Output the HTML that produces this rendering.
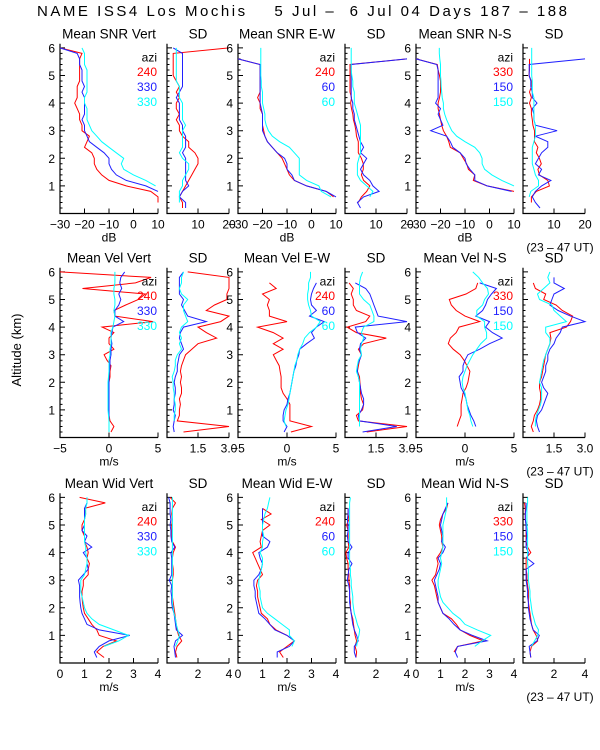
<!DOCTYPE html>
<html><head><meta charset="utf-8">
<style>
html,body{margin:0;padding:0;background:#fff;}
svg{display:block;font-family:"Liberation Sans",sans-serif;}
</style></head>
<body>
<svg id="chart" width="600" height="750" viewBox="0 0 600 750">
<text x="302" y="16" text-anchor="middle" font-size="15" textLength="530" lengthAdjust="spacing" style="white-space:pre">NAME ISS4 Los Mochis    5 Jul –  6 Jul 04 Days 187 – 188</text>
<text transform="translate(21,350) rotate(-90)" text-anchor="middle" font-size="13">Altitude (km)</text>
</svg>
<script>
// altitude levels (km)
const alts = [0.2,0.4,0.6,0.8,1.0,1.2,1.4,1.6,1.8,2.0,2.2,2.4,2.6,2.8,3.0,3.2,3.4,3.6,3.8,4.0,4.2,4.4,4.6,4.8,5.0,5.2,5.4,5.6,5.8,6.0];
const panelTitles = ["Mean SNR Vert","SD","Mean SNR E-W","SD","Mean SNR N-S","SD","Mean Vel Vert","SD","Mean Vel E-W","SD","Mean Vel N-S","SD","Mean Wid Vert","SD","Mean Wid E-W","SD","Mean Wid N-S","SD"];
const legendAzi = [["240","330","330"],["240","60","60"],["330","150","150"]];
const snrTicks = [-30,-20,-10,0,10];
const sdSnrTicks = [10,20];
const velTicks = [-5,0,5];
const sdVelTicks = [1.5,3.0];
const sdVelLabels = ["1.5","3.0"];
const widTicks = [0,1,2,3,4];
const sdWidTicks = [2,4];
const yTicks = [1,2,3,4,5,6];
// series: red, blue, cyan per panel
const p1r=[null,10,10,7,-3,-10,-13,-15,-16,-16,-17,-20,-19,-18,-21,-21,-22,-22,-23,-24,-23,-23,-23,-22,-22,-22,-22,-22,-21,-30];
const p1b=[null,null,null,10,5,-3,-7,-9,-10,-10,-12,-15,-18,-19,-20,-20,-21,-20,-20,-20,-20,-21,-20,-21,-21,-21,-22,-22,-23,-30];
const p1c=[null,null,null,null,9,5,0,-4,-5,-4,-7,-10,-13,-15,-17,-18,-19,-19,-19,-20,-20,-19,-19,-19,-19,-19,-20,-20,-20,-21];
const p2r=[5,5,4,5,6,7,8,9,10,10,9,7,7,5,4,4,3,4,3,3,4,3,4,3,2,2,2,2,2,20];
const p2b=[6,6,4,5,7,6,6,6,6,6,5,6,6,6,5,5,4,4,4,4,3,4,5,5,5,5,5,5,5,2];
const p2c=[null,4,4,4,5,5,6,7,7,5,4,5,5,5,5,6,5,5,5,5,4,4,4,3,3,3,3,3,3,3];
const p3r=[10,null,9,6,-2,-7,-9,-10,-11,-12,-14,-16,-18,-19,-19.5,-20,-20,-20,-21,-21,-22,-21,-21,-21,-21,-21,-21,-30,null,null];
const p3b=[null,null,10,6,-2,-7,-8,-10,-10,-11,-14,-16,-18,-19,-20,-20,-20,-20,-20.5,-21,-21,-21,-21,-21,-21,-21,-21,-30,null,null];
const p3c=[null,null,8,4,3,-2,-5,-5,-5,-5,-7,-9,-13,-16,-17.6,-18.5,-19,-19,-19.5,-20,-20,-20,-20.5,-20.5,-20.7,-20.7,-20.7,-20.7,-20.7,-20.7];
const p4r=[null,4.3,5.3,7,8,6,5.3,5.9,5.9,5.3,4.3,4.3,4.3,3.7,3.5,3.2,2.7,2.5,2.1,1.8,2.1,1.6,1.6,1.6,1.6,1.6,1.6,20,null,null];
const p4b=[5,4,6,11,9,8,6,5,6,7,5,6,5,4.5,4,3.5,3,3,2.5,2.5,2,2,2,2,2,2,2,20,null,null];
const p4c=[null,null,8,9,7,5,4,4,4,4.5,5,5,5,5,5,5,4.5,4,3.5,3,3,3,2.5,2.5,2.2,2,2,2,2,2];
const p5r=[null,null,null,10,-1,-6.6,-6,-8.6,-9.3,-10.7,-12,-16,-16.6,-17.5,-18.8,-19.5,-20,-20.4,-21,-21,-20.4,-20,-20,-20,-20.4,-21,-21.3,-30,null,null];
const p5b=[null,null,null,9,-1,-6,-6,-8,-9.5,-10,-12,-15,-16,-17.5,-24,-19,-20,-21,-20,-22,-21,-21,-21,-21,-21,-21,-21.5,-30,null,null];
const p5c=[null,null,null,null,10,5,1,-2,-3,-3,-4,-6,-10,-13.4,-15.4,-16.5,-17.5,-18.3,-18.8,-18.8,-19.3,-19.5,-19.7,-19.8,-20,-20,-20,-20.3,-20.5,-20.5];
const p6r=[null,2.7,2.7,4.3,8.5,8,5.3,4.8,5.9,5.3,4.3,4.8,3.7,3.7,3.7,3.2,3,2.7,2.7,2.1,2.7,2.1,2.7,2.7,1.9,2.1,2.1,2.1,null,null];
const p6b=[5.5,4,3,4,6,9,5,6,4,5,6,8,8,4,11,4,3.5,3.5,3,4.5,3,3,2.5,2.5,2,2,2,20,null,null];
const p6c=[null,null,2,2.5,5,5,4,3.5,3,3,3,3,3.5,4,4,4,3.5,3.5,3.5,3.5,3.5,3,3,3,2.8,2.8,2.8,2.8,2.8,2.8];
const p7r=[0.2,0.5,0.1,0,0,0,0,0,0,0,0.1,0.1,0.2,-0.2,-0.5,0.5,0,0,0.5,-0.7,4.5,0.6,0.5,1.7,3,3.7,-2.7,2.7,4.3,-5];
const p7b=[0,0,0,0,0,0,0,0,0,0,0,0.05,0.1,0.1,0.2,0.2,0.3,0.2,0.3,0.4,1.5,0.6,0.6,1,1.2,1,1.3,1.1,1.2,1.6];
const p7c=[0,0,0,-0.05,-0.1,-0.1,-0.1,-0.1,-0.1,-0.1,-0.05,0,0,0,0.1,0.1,0.2,0.2,0.2,0.4,0.5,0.6,0.5,0.6,0.6,0.5,0.5,0.6,0.6,0.6];
const p8r=[0.8,3,0.5,0.6,0.6,0.65,0.6,0.7,0.7,0.65,0.7,0.65,0.7,0.8,0.9,1.2,1.5,2.4,1.9,1.5,2.6,3,1.9,2.3,2.9,2.9,3,3,3,1];
const p8b=[0.35,0.3,0.35,0.4,0.3,0.35,0.35,0.4,0.4,0.35,0.4,0.5,0.5,0.55,0.6,0.8,0.7,0.6,0.65,0.8,1.9,1.0,0.85,0.7,0.8,0.6,0.6,0.6,0.6,0.8];
const p8c=[null,null,0.35,0.35,0.4,0.4,0.35,0.35,0.3,0.3,0.25,0.35,0.4,0.4,0.5,0.7,0.6,0.7,0.6,0.7,1.0,0.9,0.8,0.8,1.0,0.7,0.6,0.7,0.7,0.8];
const p9r=[0.4,2.5,0.3,0.3,0.3,0.3,0,-0.4,-0.6,-0.6,-0.6,-0.7,-0.8,-1.1,-1.4,-0.4,-1.4,-0.4,-1.4,-3,0,-1.8,-1.8,-2,-1.8,-2.5,-1.1,-1.8,null,null];
const p9b=[-0.3,0,-0.4,-0.4,-0.3,0,0.1,0.3,0.4,0.5,0.6,0.7,0.9,1.0,1.2,1.3,2.0,2.8,2.5,3.0,3.8,2.3,3.0,2.5,2.4,2.5,2.7,3.0,null,null];
const p9c=[null,-0.1,-0.3,-0.2,-0.1,0.1,0.2,0.3,0.4,0.5,0.6,0.7,0.8,1.0,1.1,1.3,1.6,1.8,2.3,3,3.4,2.5,2.4,2.2,2.1,2.1,2.2,2.2,2.4,2.4];
const p10r=[1.05,3,0.65,0.55,0.85,0.9,0.8,0.75,0.75,0.72,0.7,0.6,0.65,0.7,0.8,0.65,0.9,2.0,0.55,0.1,1.0,1.2,0.55,0.4,0.4,0.3,0.4,0.2,null,null];
const p10b=[0.85,2.5,0.7,0.65,0.8,0.9,0.9,0.8,0.75,0.7,0.65,0.6,0.6,0.7,0.8,0.7,0.75,1.0,0.6,0.5,3.0,1.6,1.5,1.4,1.3,1.2,1.0,0.5,null,null];
const p10c=[null,0.7,0.7,0.7,0.7,0.7,0.7,0.7,0.7,0.7,0.65,0.55,0.6,0.65,0.8,0.75,0.8,0.9,0.8,0.9,1.4,1.4,1.3,1.2,0.9,0.7,0.7,0.7,0.75,0.85];
const p11r=[null,-0.8,-0.6,-0.4,-0.4,-0.4,-0.3,-0.2,0.1,0.3,0.4,0.5,0.2,-0.1,-0.5,-1.2,-1.7,-1.5,-0.9,-0.6,1.5,0,-0.9,-1.4,-1.6,0.1,1.1,1.3,null,null];
const p11b=[null,1.1,0.9,0.6,0.4,0.2,0.1,-0.1,-0.4,-0.5,-0.6,-0.2,-0.2,0,0.3,1.5,2.5,3.8,2.8,2.1,2.5,1.1,1.8,2.1,2.3,2.7,3.2,1.5,null,null];
const p11c=[null,0.8,0.6,0.5,0.3,0.2,0.1,0,-0.2,-0.3,-0.2,0,0.2,0.5,0.8,1.2,1.6,2.2,2.2,2.0,2.0,1.2,1.2,1.8,2.0,2.4,2.3,1.8,1.4,0.8];
const p12r=[0.5,0.4,0.5,0.55,0.7,0.8,0.85,0.85,0.8,0.8,0.9,0.95,1.0,1.05,1.1,1.2,1.3,1.35,1.3,2.1,2.3,2.4,1.9,1.6,1.0,1.1,0.6,0.5,null,null];
const p12b=[0.8,0.7,0.65,0.7,0.9,1.0,1.1,1.2,1.0,0.9,1.0,1.1,1.1,1.2,1.2,1.3,1.5,1.6,1.8,1.9,3.0,2.3,1.7,1.3,1.4,1.5,2.0,1.5,1.5,null];
const p12c=[null,0.6,0.6,0.65,0.75,0.85,0.9,0.9,0.9,0.8,0.85,0.9,0.95,1.0,1.1,1.2,1.3,1.3,1.1,1.1,2.1,1.8,1.5,1.4,0.8,0.7,1.0,1.3,1.2,1.3];
const p13r=[1.8,1.5,1.76,2.3,1.6,1.5,1.3,1.15,1.0,0.95,0.92,0.9,0.9,0.95,0.95,1.15,1.15,1.2,1.1,1.15,1.1,1.0,1.0,0.9,0.9,1.0,1.05,1.0,1.85,0.8];
const p13b=[1.5,1.4,1.6,2.0,2.85,1.6,1.1,1.0,0.9,0.85,0.82,0.8,0.8,0.8,0.75,0.95,1.15,1.1,1.1,0.95,1.3,1.0,1.1,0.9,1.0,1.0,1.0,1.0,1.1,1.1];
const p13c=[null,null,1.8,2.4,2.8,2.2,1.6,1.3,1.1,1.0,0.95,0.9,0.85,0.85,0.85,1.0,1.05,1.1,1.1,1.05,1.05,1.0,1.0,1.0,1.0,1.0,1.05,1.05,1.1,1.1];
const p14r=[0.64,0.55,0.65,0.95,0.75,0.65,0.6,0.55,0.5,0.45,0.4,0.35,0.35,0.35,0.35,0.4,0.4,0.35,0.35,0.4,0.55,0.35,0.3,0.3,0.3,0.35,0.3,0.35,0.55,0.2];
const p14b=[0.55,0.5,0.45,0.55,1.0,0.6,0.55,0.5,0.45,0.35,0.3,0.3,0.25,0.3,0.15,0.3,0.3,0.3,0.3,0.25,0.5,0.3,0.25,0.25,0.2,0.25,0.2,0.2,0.2,0.1];
const p14c=[null,null,0.55,0.7,0.8,0.7,0.6,0.55,0.45,0.4,0.35,0.35,0.35,0.35,0.35,0.35,0.35,0.35,0.35,0.35,0.35,0.35,0.35,0.35,0.35,0.35,0.35,0.35,0.35,0.35];
const p15r=[1.85,1.7,2.0,2.3,2.0,1.55,1.3,1.2,0.95,0.9,0.85,0.8,0.8,0.75,0.8,1.0,0.9,0.8,0.7,0.6,0.95,0.9,0.95,1.0,1.3,0.95,1.35,1.0,null,null];
const p15b=[1.6,1.6,2.1,2.3,2.0,1.5,1.3,1.1,0.85,0.8,0.75,0.7,0.7,0.65,0.65,0.85,0.95,1.0,0.9,0.85,1.2,1.3,1.0,1.0,1.0,1.0,1.0,1.0,null,null];
const p15c=[null,null,2.2,2.3,2.1,2.1,1.8,1.5,1.2,1.0,0.95,0.9,0.9,0.85,0.85,0.9,0.95,1.0,1.0,0.9,1.0,1.0,1.05,1.0,1.0,1.05,1.1,1.2,1.25,1.3];
const p16r=[0.7,0.75,0.65,0.75,0.65,0.6,0.55,0.5,0.4,0.35,0.35,0.3,0.3,0.3,0.25,0.25,0.2,0.2,0.1,0.05,0.25,0.2,0.2,0.2,0.1,0.25,0.2,0.2,null,null];
const p16b=[0.7,0.6,0.6,0.85,0.75,0.6,0.5,0.45,0.4,0.35,0.3,0.3,0.3,0.25,0.15,0.2,0.25,0.45,0.2,0.2,0.45,0.2,0.15,0.2,0.2,0.15,0.2,0.2,null,null];
const p16c=[null,null,0.75,0.8,0.9,0.95,0.8,0.7,0.6,0.55,0.5,0.5,0.45,0.4,0.4,0.35,0.35,0.3,0.3,0.3,0.3,0.3,0.3,0.3,0.3,0.3,0.3,0.3,0.3,0.35];
const p17r=[null,1.55,1.7,2.75,2.2,1.8,1.65,1.45,1.1,1.0,0.9,0.85,0.8,0.75,0.65,0.8,0.85,0.9,0.85,1.0,1.1,1.05,1.05,1.0,0.95,1.0,1.1,1.25,1.3,null];
const p17b=[1.7,1.6,1.7,2.9,2.3,1.8,1.55,1.35,1.1,1.0,0.9,0.9,0.85,0.8,0.75,0.85,0.95,1.0,0.9,1.1,1.2,1.05,1.1,1.05,1.0,1.05,1.1,1.2,1.3,null];
const p17c=[null,null,2.4,2.7,3.05,2.5,2.0,1.8,1.5,1.3,1.1,1.0,0.95,0.9,0.9,0.95,1.0,1.05,1.0,1.05,1.1,1.1,1.1,1.1,1.1,1.15,1.2,1.25,1.25,1.25];
const p18r=[0.5,0.45,0.55,0.95,0.85,0.65,0.55,0.5,0.45,0.4,0.35,0.35,0.35,0.3,0.25,0.25,0.2,0.2,0.2,0.5,0.3,0.2,0.2,0.2,0.2,0.15,0.15,0.15,0.1,null];
const p18b=[0.5,0.45,0.4,0.9,1.05,0.65,0.55,0.45,0.4,0.35,0.35,0.3,0.3,0.25,0.2,0.2,0.2,0.7,0.25,0.35,0.2,0.2,0.25,0.2,0.2,0.15,0.15,0.2,0.2,null];
const p18c=[null,null,0.55,0.75,0.95,1.0,0.8,0.7,0.6,0.55,0.5,0.45,0.45,0.4,0.35,0.35,0.35,0.3,0.3,0.3,0.3,0.3,0.3,0.3,0.25,0.25,0.25,0.25,0.3,0.3];

const series = [[p1r,p1b,p1c],[p2r,p2b,p2c],[p3r,p3b,p3c],[p4r,p4b,p4c],[p5r,p5b,p5c],[p6r,p6b,p6c],
 [p7r,p7b,p7c],[p8r,p8b,p8c],[p9r,p9b,p9c],[p10r,p10b,p10c],[p11r,p11b,p11c],[p12r,p12b,p12c],
 [p13r,p13b,p13c],[p14r,p14b,p14c],[p15r,p15b,p15c],[p16r,p16b,p16c],[p17r,p17b,p17c],[p18r,p18b,p18c]];

const NS="http://www.w3.org/2000/svg";
const svg=document.getElementById('chart');
const colX=[[60,158],[167,229],[238,336],[345,407],[416,514],[523,585]];
const rowBottom=[213.5,437.5,663];
const kmPx=27.6;
const colors=["#ff0000","#2020ff","#00ffff"];
const rowXTitle=["dB","m/s","m/s"];
function mk(tag,attrs,parent){const e=document.createElementNS(NS,tag);for(const k in attrs)e.setAttribute(k,attrs[k]);(parent||svg).appendChild(e);return e;}

for(let p=0;p<18;p++){
  const row=Math.floor(p/6), col=p%6, isSD=col%2===1;
  const [x0,x1]=colX[col]; const yb=rowBottom[row];
  let xmin,xmax,ticks,labels;
  if(row===0){ if(isSD){xmin=0;xmax=20;ticks=sdSnrTicks;labels=sdSnrTicks.map(String);} else {xmin=-30;xmax=10;ticks=snrTicks;labels=snrTicks.map(v=>v<0?"−"+(-v):String(v));} }
  else if(row===1){ if(isSD){xmin=0;xmax=3;ticks=sdVelTicks;labels=sdVelLabels;} else {xmin=-5;xmax=5;ticks=velTicks;labels=velTicks.map(v=>v<0?"−"+(-v):String(v));} }
  else { if(isSD){xmin=0;xmax=4;ticks=sdWidTicks;labels=sdWidTicks.map(String);} else {xmin=0;xmax=4;ticks=widTicks;labels=widTicks.map(String);} }
  const xs=v=>x0+(v-xmin)/(xmax-xmin)*(x1-x0);
  const ys=a=>yb-a*kmPx;
  const g=mk('g',{});
  
  
  const t=mk('text',{x:(x0+x1)/2,y:yb-175,'text-anchor':'middle','font-size':'13.5'},g);
  t.textContent=panelTitles[p];
  
  
  const top=ys(6.15);
  const ax=mk('path',{d:`M${x0} ${top}V${yb}H${x1}`,stroke:'#000','stroke-width':1.2,fill:'none'},g);
  
  
  let d='';
  for(let a=0.2;a<6.15;a+=0.2){const major=Math.abs(a-Math.round(a))<0.01;d+=`M${x0} ${ys(a).toFixed(1)}h${major?5:2.5}`;}
  ticks.forEach(v=>{d+=`M${xs(v).toFixed(1)} ${yb}v-5`;});
  mk('path',{d:d,stroke:'#000','stroke-width':1,fill:'none'},g);
  if(!isSD){
    yTicks.forEach(v=>{const l=mk('text',{x:x0-5,y:ys(v)+4.5,'text-anchor':'end','font-size':'12'},g);l.textContent=v;
      
      });
  }
  ticks.forEach((v,i)=>{const l=mk('text',{x:xs(v),y:yb+15,'text-anchor':'middle','font-size':'12'},g);l.textContent=labels[i];
    
    });
  if(!isSD){const l=mk('text',{x:(x0+x1)/2,y:yb+28,'text-anchor':'middle','font-size':'12'},g);l.textContent=rowXTitle[row];
    
    }
  series[p].forEach((s,si)=>{
    let pd='',pen=false;
    s.forEach((v,i)=>{ if(v===null){pen=false;return;} const cv=Math.max(xmin,Math.min(xmax,v));
      pd+=(pen?'L':'M')+xs(cv).toFixed(1)+' '+ys(alts[i]).toFixed(1);pen=true;});
    const ln=mk('path',{d:pd,stroke:colors[si],'stroke-width':1,fill:'none'},g);
    
    
  });
  if(!isSD){
    const lg=mk('g',{'font-size':'12','text-anchor':'end'},g);
    
    
    const az=mk('text',{x:x1-1,y:yb-152},lg);az.textContent='azi';
    
    
    legendAzi[col/2].forEach((s,i)=>{const e=mk('text',{x:x1-1,y:yb-137.5+i*15,fill:colors[i]},lg);e.textContent=s;
      
      });
  }
  if(col===5){const n=mk('text',{x:560,y:yb+38,'text-anchor':'middle','font-size':'12'},g);n.textContent='(23 – 47 UT)';
    
    }
}
</script>
</body></html>
